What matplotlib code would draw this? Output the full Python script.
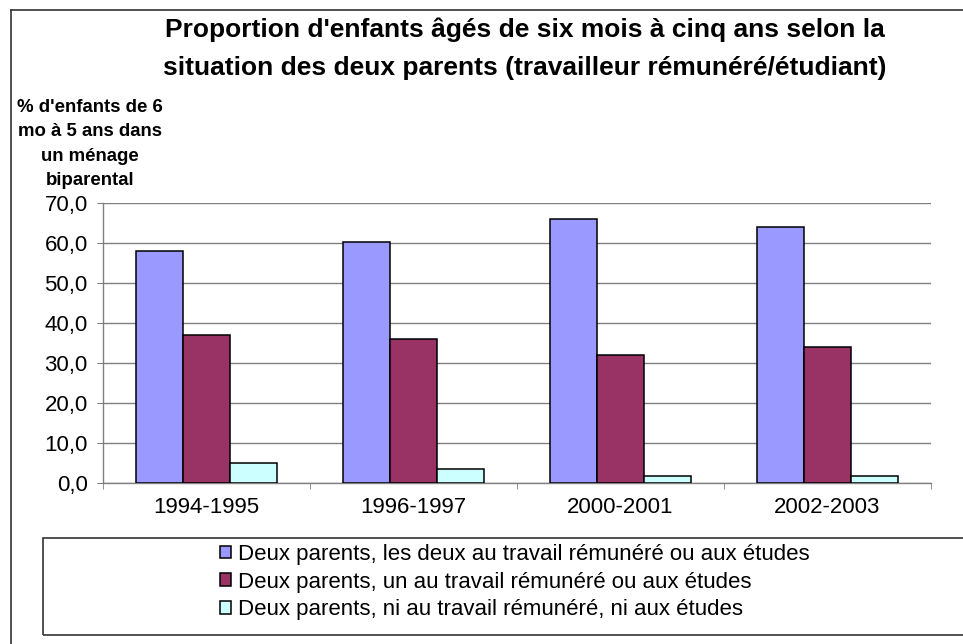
import numpy as np
import matplotlib.pyplot as plt
from matplotlib.lines import Line2D
from matplotlib.patches import Rectangle

plt.rcParams["font.family"] = ["Liberation Sans", "DejaVu Sans"]

# données
periodes = ["1994-1995", "1996-1997", "2000-2001", "2002-2003"]
series = [
    "Deux parents, les deux au travail rémunéré ou aux études",
    "Deux parents, un au travail rémunéré ou aux études",
    "Deux parents, ni au travail rémunéré, ni aux études",
]
deux_actifs = [57.9, 60.3, 66.0, 63.9]
un_actif = [36.9, 36.0, 31.9, 33.9]
aucun_actif = [4.9, 3.5, 1.8, 1.8]
couleurs = ["#9999FF", "#993366", "#CCFFFF"]

W, H = 963, 644
fig = plt.figure(figsize=(W / 100, H / 100), dpi=100)

# cadre extérieur (gauche + haut seulement visibles)
fig.add_artist(Line2D([11 / W, 11 / W], [0, 1 - 10 / H], color="#333333", lw=1.2))
fig.add_artist(Line2D([11 / W, 1], [1 - 10 / H, 1 - 10 / H], color="#333333", lw=1.2))

# zone de tracé
ax = fig.add_axes([103 / W, (H - 483) / H, 828 / W, 280 / H])
x = np.arange(len(periodes))
w = 0.2255
for i, vals in enumerate([deux_actifs, un_actif, aucun_actif]):
    ax.bar(x + (i - 1) * w, vals, w, color=couleurs[i], edgecolor="black",
           linewidth=1.1, label=series[i], zorder=3)

ax.set_xlim(-0.5, 3.5)
ax.set_ylim(0, 70)
ax.set_yticks(np.arange(0, 71, 10))
ax.set_yticklabels([f"{v:.1f}".replace(".", ",") for v in np.arange(0, 71, 10)])
ax.yaxis.grid(True, color="#808080", lw=1.0, zorder=0)
ax.set_xticks(x)
ax.set_xticklabels(periodes)
ax.set_xticks(np.arange(-0.5, 3.6, 1), minor=True)
ax.tick_params(axis="x", which="major", length=0, pad=10, labelsize=16)
ax.tick_params(axis="x", which="minor", length=4, color="#808080", direction="out")
ax.tick_params(axis="y", length=4, color="#808080", pad=7, labelsize=16)
for s in ["top", "right"]:
    ax.spines[s].set_visible(False)
for s in ["left", "bottom"]:
    ax.spines[s].set_color("#808080")
    ax.spines[s].set_linewidth(1.0)

# titres
fig.text(525 / W, 1 - 49 / H,
         "Proportion d'enfants âgés de six mois à cinq ans selon la\n"
         "situation des deux parents (travailleur rémunéré/étudiant)",
         ha="center", va="center", fontsize=19, fontweight="bold", linespacing=1.72)
fig.text(90 / W, 1 - 144 / H,
         "% d'enfants de 6\nmo à 5 ans dans\nun ménage\nbiparental",
         ha="center", va="center", fontsize=13.4, fontweight="bold",
         multialignment="center", linespacing=1.55)

# légende
fig.add_artist(Rectangle((43 / W, (H - 635) / H), 1.2, 97 / H, transform=fig.transFigure,
                         fill=False, edgecolor="#333333", lw=1.2))
h, l = ax.get_legend_handles_labels()
fig.legend(h, l, loc="upper left", bbox_to_anchor=(211 / W, 1 - 535 / H),
           frameon=False, fontsize=16, handlelength=0.5, handleheight=0.5,
           handletextpad=0.3, labelspacing=0.3, borderaxespad=0)

plt.savefig("out.png", dpi=100)
